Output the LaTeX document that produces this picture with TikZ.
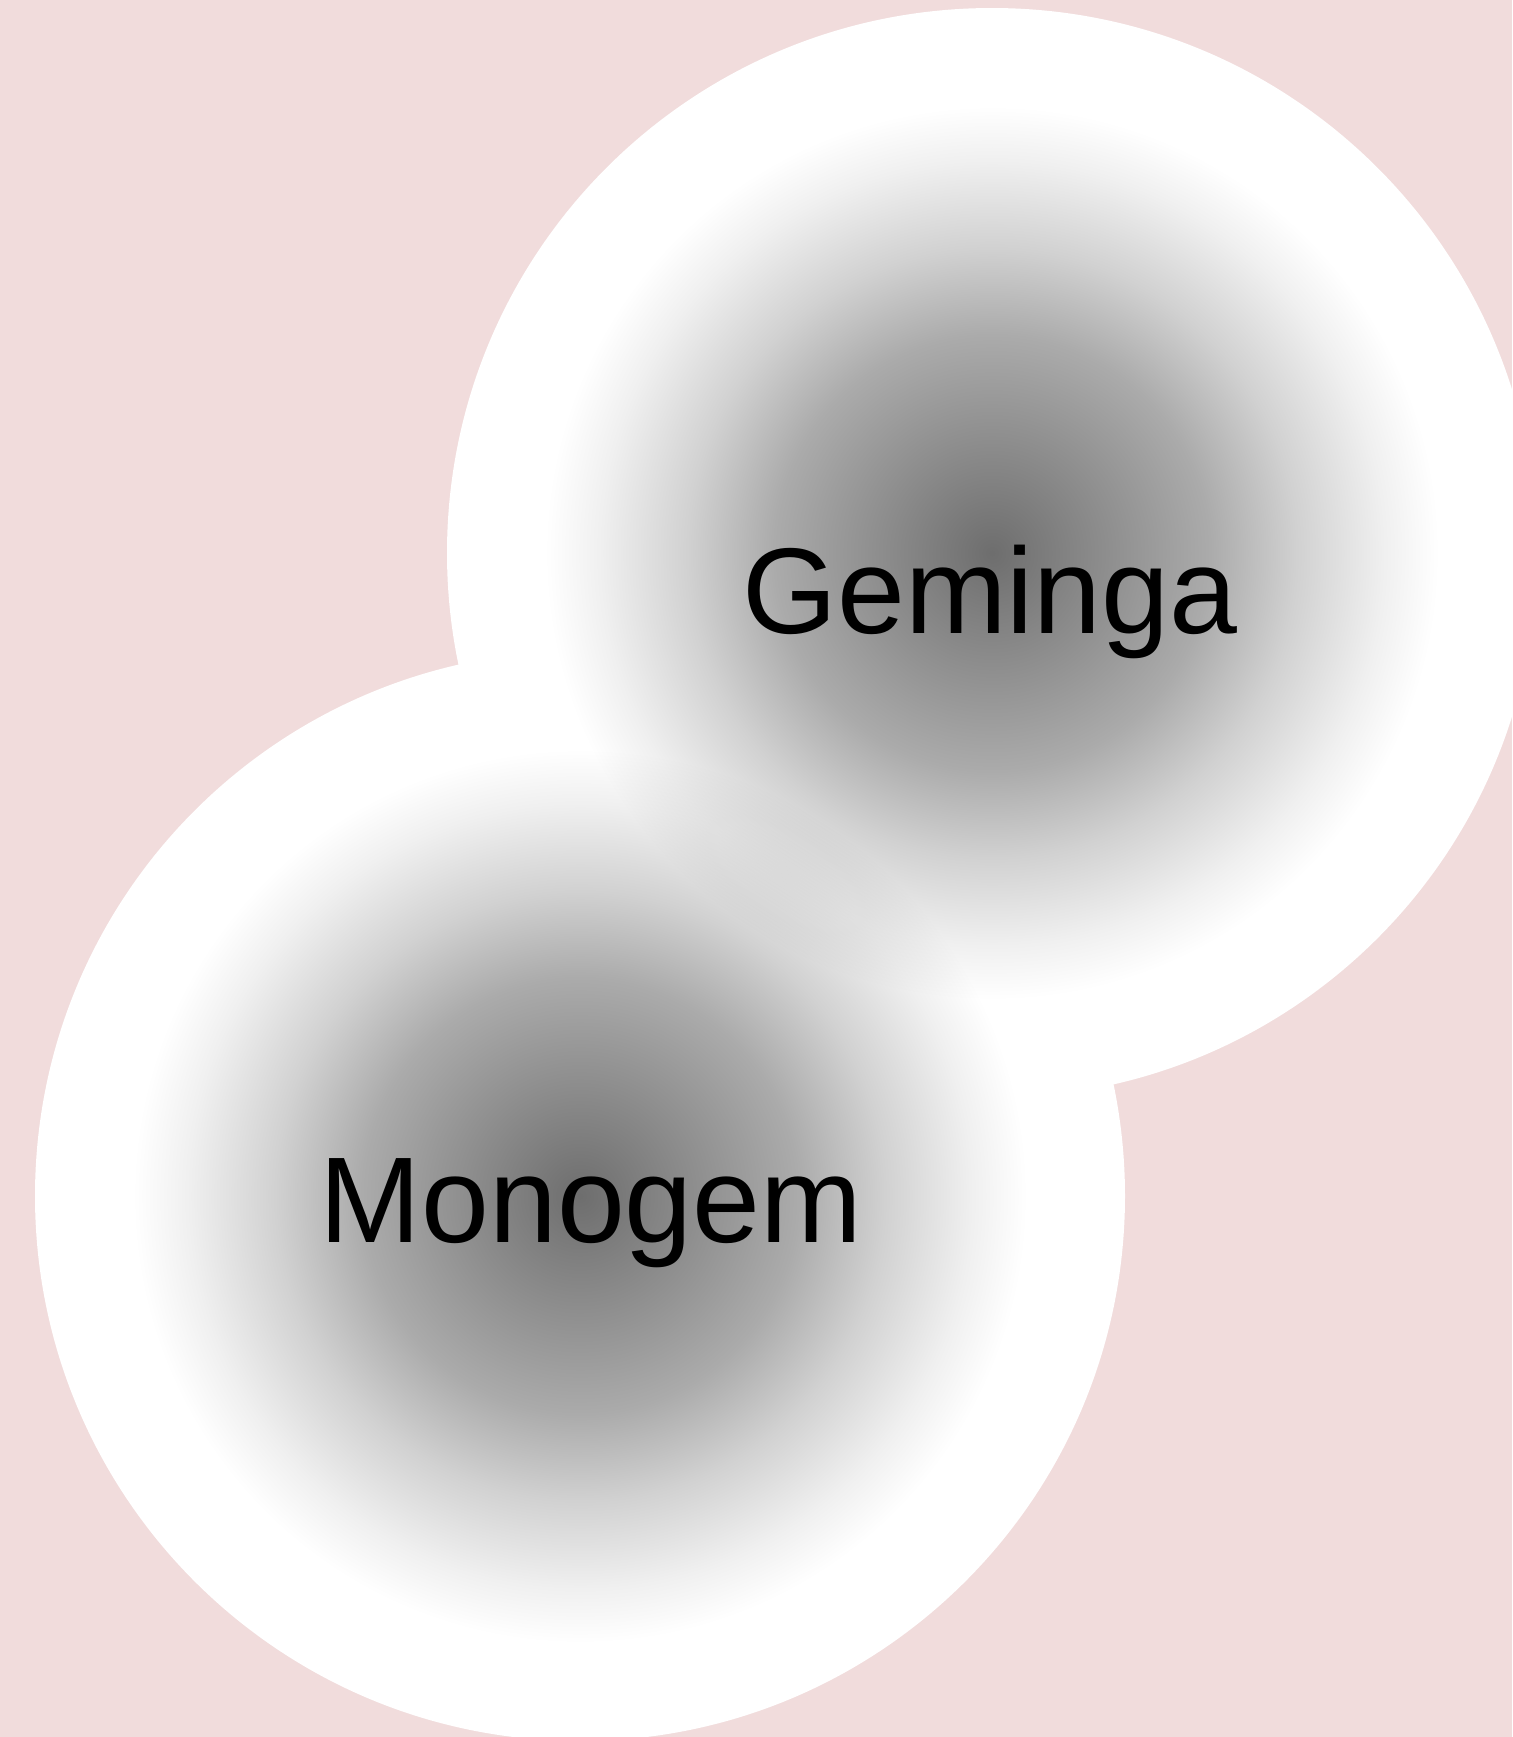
\documentclass[tikz,border=0pt]{standalone}
\usepackage{fontspec}
\setmainfont{Liberation Sans}
\definecolor{bgpink}{RGB}{241,220,220}
\pgfdeclareradialshading{glow}{\pgfpoint{0bp}{0bp}}{color(0bp)=(black!57); color(10bp)=(black!33); color(14bp)=(black!18); color(18bp)=(black!6); color(20.5bp)=(white); color(50bp)=(white)}
\tikzset{
  disk/.style={circle, inner sep=0pt, minimum size=545pt, fill=white},
  glowdisk/.style={circle, inner sep=0pt, minimum size=545pt, shade, shading=glow},
  label/.style={anchor=base, font=\fontsize{61pt}{61pt}\selectfont, text=black, inner sep=0pt}
}
\begin{document}
\begin{tikzpicture}[x=1pt,y=1pt]
\fill[bgpink] (0,0) rectangle (756,-868.5);
\useasboundingbox (0,0) rectangle (756,-868.5);
\node[disk] (monogemdisk) at (290,-598) {};
\node[disk] (gemingadisk) at (496,-276.5) {};
\begin{scope}[blend mode=multiply]
\node[glowdisk] (monogemglow) at (290,-598) {};
\node[glowdisk] (gemingaglow) at (496,-276.5) {};
\end{scope}
\node[label] (monogem) at (295.5,-621) {Monogem};
\node[label] (geminga) at (495,-316.5) {Geminga};
\end{tikzpicture}
\end{document}
